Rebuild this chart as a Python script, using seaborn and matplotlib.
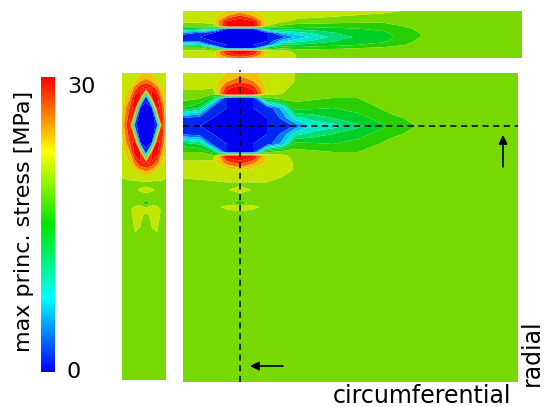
import matplotlib

matplotlib.use("Agg", force=True)

import matplotlib.pyplot as plt
import numpy as np
import seaborn as sns
from matplotlib.cm import ScalarMappable
from matplotlib.colors import Normalize

# max principal stress [MPa] read off the contour plot on coarse grids
# main face: circumferential (x) vs radial (y, downwards), px-like units
main_x = [0, 17, 30, 44, 57, 70, 84, 99, 112, 130, 150, 175, 210, 250, 335]
main_y = [0, 8, 15, 21, 25, 35, 45, 53, 61, 71, 79, 83, 90, 97, 104,
          112, 117, 121, 126, 130, 134, 140, 180, 309]
main_stress = [
    [21.5, 21.5, 21.5, 22.5, 23.5, 23.0, 21.5, 20.5, 20.0, 19.5, 19.0, 19.0, 19.0, 19.0, 19.0],
    [21.5, 21.5, 21.5, 24.5, 27.0, 25.0, 21.5, 20.5, 20.0, 19.5, 19.0, 19.0, 19.0, 19.0, 19.0],
    [20.5, 20.5, 20.0, 29.0, 32.0, 29.0, 21.5, 20.5, 19.5, 19.0, 19.0, 19.0, 19.0, 19.0, 19.0],
    [19.0, 19.0, 18.0, 32.0, 33.0, 32.0, 21.0, 20.0, 19.0, 19.0, 18.5, 18.5, 19.0, 19.0, 19.0],
    [18.5, 18.0, 13.0, 0.0, -2.0, 0.0, 17.0, 19.0, 18.5, 18.0, 17.5, 17.5, 19.0, 19.0, 19.0],
    [15.0, 12.0, 1.0, 0.0, 0.0, 0.0, 0.5, 6.0, 16.0, 15.5, 15.0, 16.0, 18.5, 19.0, 19.0],
    [2.5, 1.0, 0.0, 0.0, 0.0, 0.0, 0.0, 3.0, 9.0, 11.0, 12.5, 14.0, 17.0, 19.0, 19.0],
    [0.0, 0.0, 0.0, 0.0, 0.0, 0.0, 0.0, 0.5, 3.0, 8.0, 9.0, 12.0, 15.5, 19.0, 19.0],
    [2.0, 1.0, 0.0, 0.0, 0.0, 0.0, 0.0, 3.0, 9.0, 11.0, 12.5, 14.0, 17.0, 19.0, 19.0],
    [14.0, 12.0, 1.5, 0.0, 0.0, 0.0, 1.0, 6.0, 16.0, 15.5, 15.0, 16.0, 18.5, 19.0, 19.0],
    [17.5, 17.5, 14.0, 0.0, -2.0, 0.0, 17.0, 19.0, 18.5, 18.0, 17.5, 17.5, 19.0, 19.0, 19.0],
    [19.0, 19.0, 18.5, 32.0, 33.0, 31.0, 22.0, 20.5, 19.5, 19.0, 18.5, 18.5, 19.0, 19.0, 19.0],
    [20.5, 20.5, 21.0, 26.0, 28.5, 25.5, 22.0, 21.0, 19.8, 19.0, 19.0, 19.0, 19.0, 19.0, 19.0],
    [21.2, 21.5, 21.5, 21.5, 22.5, 21.5, 21.5, 21.0, 19.8, 19.0, 19.0, 19.0, 19.0, 19.0, 19.0],
    [20.2, 20.5, 21.0, 21.0, 21.0, 21.0, 21.0, 20.0, 19.0, 19.0, 19.0, 19.0, 19.0, 19.0, 19.0],
    [19.0, 19.0, 19.0, 19.5, 19.5, 19.5, 19.5, 19.0, 19.0, 19.0, 19.0, 19.0, 19.0, 19.0, 19.0],
    [19.0, 19.0, 19.0, 19.5, 22.5, 19.5, 19.0, 19.0, 19.0, 19.0, 19.0, 19.0, 19.0, 19.0, 19.0],
    [19.0, 19.0, 19.0, 19.0, 19.5, 19.0, 19.0, 19.0, 19.0, 19.0, 19.0, 19.0, 19.0, 19.0, 19.0],
    [19.0, 19.0, 19.0, 19.0, 19.0, 19.0, 19.0, 19.0, 19.0, 19.0, 19.0, 19.0, 19.0, 19.0, 19.0],
    [19.0, 19.0, 19.0, 19.0, 15.0, 19.0, 19.0, 19.0, 19.0, 19.0, 19.0, 19.0, 19.0, 19.0, 19.0],
    [19.0, 19.0, 19.0, 20.8, 22.0, 20.8, 19.0, 19.0, 19.0, 19.0, 19.0, 19.0, 19.0, 19.0, 19.0],
    [19.0, 19.0, 19.0, 19.0, 19.0, 19.0, 19.0, 19.0, 19.0, 19.0, 19.0, 19.0, 19.0, 19.0, 19.0],
    [19.0, 19.0, 19.0, 19.0, 19.0, 19.0, 19.0, 19.0, 19.0, 19.0, 19.0, 19.0, 19.0, 19.0, 19.0],
    [19.0, 19.0, 19.0, 19.0, 19.0, 19.0, 19.0, 19.0, 19.0, 19.0, 19.0, 19.0, 19.0, 19.0, 19.0],
]

# top section (cut along the radial dashed line)
top_x = [0, 17, 30, 44, 57, 70, 84, 100, 115, 137, 160, 200, 237, 280, 339]
top_y = [0, 5, 10, 15, 18, 22, 26, 30, 34, 37, 40, 44, 47]
top_stress = [
    [21.5, 21.5, 21.5, 22.5, 23.5, 22.5, 21.5, 21.0, 21.0, 21.0, 21.0, 20.5, 19.5, 19.0, 19.0],
    [21.5, 21.5, 21.5, 25.0, 28.0, 25.0, 21.5, 21.0, 20.5, 20.5, 20.0, 19.5, 19.0, 19.0, 19.0],
    [21.0, 21.0, 21.5, 30.0, 32.0, 30.0, 21.5, 20.5, 19.5, 19.0, 18.5, 18.0, 19.0, 19.0, 19.0],
    [18.0, 18.0, 19.0, 32.0, 33.0, 32.0, 20.0, 17.0, 16.0, 16.0, 16.0, 16.5, 18.5, 19.0, 19.0],
    [13.0, 12.0, 10.0, 0.0, -2.0, 0.0, 12.0, 13.0, 13.0, 14.0, 14.5, 15.5, 18.0, 19.0, 19.0],
    [4.0, 2.0, 0.0, 0.0, 0.0, 0.0, 0.0, 7.0, 9.0, 11.0, 13.0, 14.5, 17.5, 19.0, 19.0],
    [0.0, 0.0, 0.0, 0.0, 0.0, 0.0, 0.0, 1.5, 6.0, 9.0, 12.0, 14.0, 17.5, 19.0, 19.0],
    [2.5, 1.5, 0.0, 0.0, 0.0, 0.0, 0.0, 7.0, 9.0, 11.0, 13.0, 14.5, 18.0, 19.0, 19.0],
    [11.0, 10.0, 2.0, 0.0, 0.0, 0.0, 2.0, 13.0, 13.0, 14.0, 14.5, 16.0, 18.5, 19.0, 19.0],
    [18.0, 18.0, 14.0, 0.0, -2.0, 0.0, 14.0, 17.0, 16.0, 16.5, 17.0, 18.0, 19.0, 19.0, 19.0],
    [20.5, 20.5, 20.0, 31.0, 32.0, 31.0, 21.0, 20.5, 19.5, 19.0, 19.0, 19.0, 19.0, 19.0, 19.0],
    [21.5, 21.5, 21.5, 28.0, 30.0, 28.0, 22.0, 21.0, 19.8, 19.0, 19.0, 19.0, 19.0, 19.0, 19.0],
    [21.5, 21.5, 21.5, 24.0, 26.0, 24.0, 21.5, 21.0, 19.8, 19.0, 19.0, 19.0, 19.0, 19.0, 19.0],
]

# left section (cut along the circumferential dashed line)
side_x = [0, 8, 13, 18, 24, 30, 35, 40, 44]
side_y = [0, 8, 15, 24, 35, 52, 69, 80, 90, 97, 103, 112, 117, 121, 126,
          130, 136, 142, 180, 307]
side_stress = [
    [21.0, 21.0, 21.5, 22.0, 22.5, 22.0, 21.5, 21.0, 21.0],
    [21.0, 21.5, 22.5, 24.5, 26.0, 24.5, 22.5, 21.5, 21.0],
    [21.0, 22.5, 26.0, 29.5, 31.0, 29.5, 26.0, 22.5, 21.0],
    [21.5, 24.5, 31.0, 32.0, 1.0, 32.0, 31.0, 24.5, 21.5],
    [22.0, 28.0, 32.0, 0.0, -1.0, 0.0, 32.0, 28.0, 22.0],
    [23.0, 31.0, 0.5, -1.0, -1.0, -1.0, 0.5, 31.0, 23.0],
    [22.0, 28.0, 32.0, 0.0, -1.0, 0.0, 32.0, 28.0, 22.0],
    [21.5, 24.5, 31.0, 32.0, 1.0, 32.0, 31.0, 24.5, 21.5],
    [21.0, 22.5, 26.0, 29.5, 31.0, 29.5, 26.0, 22.5, 21.0],
    [21.0, 21.5, 22.5, 24.5, 26.0, 24.5, 22.5, 21.5, 21.0],
    [20.3, 21.0, 21.0, 21.5, 22.0, 21.5, 21.0, 21.0, 20.3],
    [19.0, 19.0, 19.0, 19.0, 19.0, 19.0, 19.0, 19.0, 19.0],
    [19.0, 19.0, 19.5, 20.5, 22.0, 20.5, 19.5, 19.0, 19.0],
    [19.0, 19.0, 19.0, 19.0, 19.5, 19.0, 19.0, 19.0, 19.0],
    [19.0, 19.0, 19.0, 19.0, 19.0, 19.0, 19.0, 19.0, 19.0],
    [19.0, 19.0, 19.0, 19.0, 15.0, 19.0, 19.0, 19.0, 19.0],
    [19.0, 19.5, 21.0, 21.5, 21.5, 21.5, 21.0, 19.5, 19.0],
    [19.0, 19.5, 20.8, 20.5, 19.5, 20.5, 20.8, 19.5, 19.0],
    [19.0, 19.0, 19.0, 19.0, 19.0, 19.0, 19.0, 19.0, 19.0],
    [19.0, 19.0, 19.0, 19.0, 19.0, 19.0, 19.0, 19.0, 19.0],
]

crack_x = 57  # position of the radial cut (vertical dashed line)
crack_y = 53  # position of the circumferential cut (horizontal dashed line)
stress_min, stress_max = 0, 30

sns.set_style("white")
plt.rcParams["font.family"] = ["DejaVu Sans"]
plt.rcParams["text.color"] = "black"

# field colours are rendered a little darker than the legend bar
cmap = sns.blend_palette(["#0000f0", "#00f0f0", "#00c800", "#eaea00", "#ff0000"], as_cmap=True)
bar_cmap = sns.blend_palette(["#0000ff", "#00ffff", "#00e600", "#ffff00", "#ff0000"], as_cmap=True)
levels = np.linspace(stress_min, stress_max, 13)
norm = Normalize(stress_min, stress_max)


def field(ax, xs, ys, values):
    ax.contourf(xs, ys, np.array(values), levels=levels, cmap=cmap, norm=norm,
                extend="both", antialiased=True)
    ax.set_xlim(xs[0], xs[-1])
    ax.set_ylim(ys[-1], ys[0])
    ax.set_axis_off()


W, H = 544, 407
fig = plt.figure(figsize=(W / 100, H / 100), dpi=100)

ax_main = fig.add_axes([183 / W, 25 / H, 335 / W, 309 / H])
ax_top = fig.add_axes([183 / W, 349 / H, 339 / W, 47 / H])
ax_side = fig.add_axes([122 / W, 27 / H, 44 / W, 307 / H])
cax = fig.add_axes([41 / W, 35 / H, 14 / W, 295 / H])

field(ax_main, main_x, main_y, main_stress)
field(ax_top, top_x, top_y, top_stress)
field(ax_side, side_x, side_y, side_stress)

ax_main.plot([crack_x, crack_x], [main_y[-1], -3], color="black", lw=1.1,
             ls=(0, (4, 3)), clip_on=False)
ax_main.axhline(crack_y, color="black", lw=1.1, ls=(0, (4, 3)))
arrow = dict(arrowstyle="-|>", color="black", lw=1.2, mutation_scale=13, shrinkA=0, shrinkB=0)
ax_main.annotate("", xy=(320, 62), xytext=(320, 94), arrowprops=arrow)
ax_main.annotate("", xy=(67, 293), xytext=(100, 293), arrowprops=arrow)

cb = fig.colorbar(ScalarMappable(norm=norm, cmap=bar_cmap), cax=cax)
cb.outline.set_visible(False)
cb.set_ticks([])
cax.text(1.85, stress_max, "30", transform=cax.get_yaxis_transform(),
         ha="left", va="top", fontsize=16)
cax.text(1.85, stress_min, "0", transform=cax.get_yaxis_transform(),
         ha="left", va="center", fontsize=16)

fig.text(24 / W, (H - 221) / H, "max princ. stress [MPa]", rotation=90,
         ha="center", va="center", fontsize=16)
fig.text(511 / W, 4 / H, "circumferential", ha="right", va="baseline", fontsize=17)
fig.text(532 / W, (H - 386) / H, "radial", rotation=90, ha="center", va="bottom", fontsize=17)

fig.savefig("out.png", dpi=100)
plt.close(fig)
